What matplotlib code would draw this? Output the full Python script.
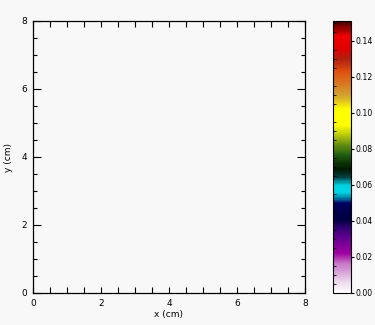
import numpy as np
import matplotlib
matplotlib.use('Agg')
import matplotlib.pyplot as plt
from matplotlib.colors import LinearSegmentedColormap, Normalize
from matplotlib.cm import ScalarMappable
from matplotlib.ticker import MultipleLocator

# axis ranges and ticks
x_range = [0, 8]
y_range = [0, 8]
x_ticks = [0, 2, 4, 6, 8]
y_ticks = [0, 2, 4, 6, 8]
cbar_range = [0.0, 0.151]
cbar_ticks = [0.00, 0.02, 0.04, 0.06, 0.08, 0.10, 0.12, 0.14]
cbar_labels = ['0.00', '0.02', '0.04', '0.06', '0.08', '0.10', '0.12', '0.14']

# colour table stops (value, colour)
cmap_values = [0.0, 0.005, 0.016, 0.022, 0.031, 0.036, 0.041, 0.050, 0.053,
               0.056, 0.060, 0.064, 0.069, 0.077, 0.084, 0.093, 0.102,
               0.110, 0.123, 0.130, 0.136, 0.143, 0.151]
cmap_colors = ['#ffffff', '#f0e0f0', '#c878c8', '#a000a0', '#600090',
               '#300070', '#000040', '#000060', '#0090b0',
               '#00d8e8', '#00d0e0', '#004040', '#001800', '#206010',
               '#80a010', '#ffff00', '#ffff00',
               '#d0a030', '#e05010', '#b02010', '#e00000', '#f00000', '#400000']

bg = '#f8f8f8'
plt.rcParams['font.family'] = 'DejaVu Sans'
plt.rcParams['font.size'] = 6.5

fig = plt.figure(figsize=(3.75, 3.25), dpi=100, facecolor=bg)
W, H = 375.0, 325.0

ax = fig.add_axes([33 / W, (H - 293) / H, (305 - 33) / W, (293 - 21) / H])
ax.set_facecolor(bg)
ax.set_xlim(x_range)
ax.set_ylim(y_range)
ax.set_xticks(x_ticks)
ax.set_yticks(y_ticks)
ax.xaxis.set_minor_locator(MultipleLocator(0.5))
ax.yaxis.set_minor_locator(MultipleLocator(0.5))
ax.tick_params(which='both', direction='in', top=True, right=True, width=0.8, pad=4)
ax.tick_params(axis='x', which='both', length=4)
ax.tick_params(axis='y', which='major', length=6)
ax.tick_params(axis='y', which='minor', length=3)
ax.set_xlabel('x (cm)', labelpad=2)
ax.set_ylabel('y (cm)', labelpad=6)
for s in ax.spines.values():
    s.set_linewidth(0.9)

# colour bar
stops = [(v - cbar_range[0]) / (cbar_range[1] - cbar_range[0]) for v in cmap_values]
cmap = LinearSegmentedColormap.from_list('idl', list(zip(stops, cmap_colors)), N=256)
cax = fig.add_axes([333 / W, (H - 293) / H, (351 - 333) / W, (293 - 21) / H])
sm = ScalarMappable(norm=Normalize(*cbar_range), cmap=cmap)
cb = fig.colorbar(sm, cax=cax)
cb.set_ticks(cbar_ticks)
cb.set_ticklabels(cbar_labels)
cb.outline.set_linewidth(0.8)
cax.yaxis.set_minor_locator(MultipleLocator(0.005))
cax.tick_params(which='major', right=True, left=False, direction='out', length=2,
                width=0.8, pad=1, labelsize=5.6)
cax.tick_params(which='minor', left=True, right=False, direction='in', length=2, width=0.6)

fig.savefig('out.png', dpi=100, facecolor=bg)
